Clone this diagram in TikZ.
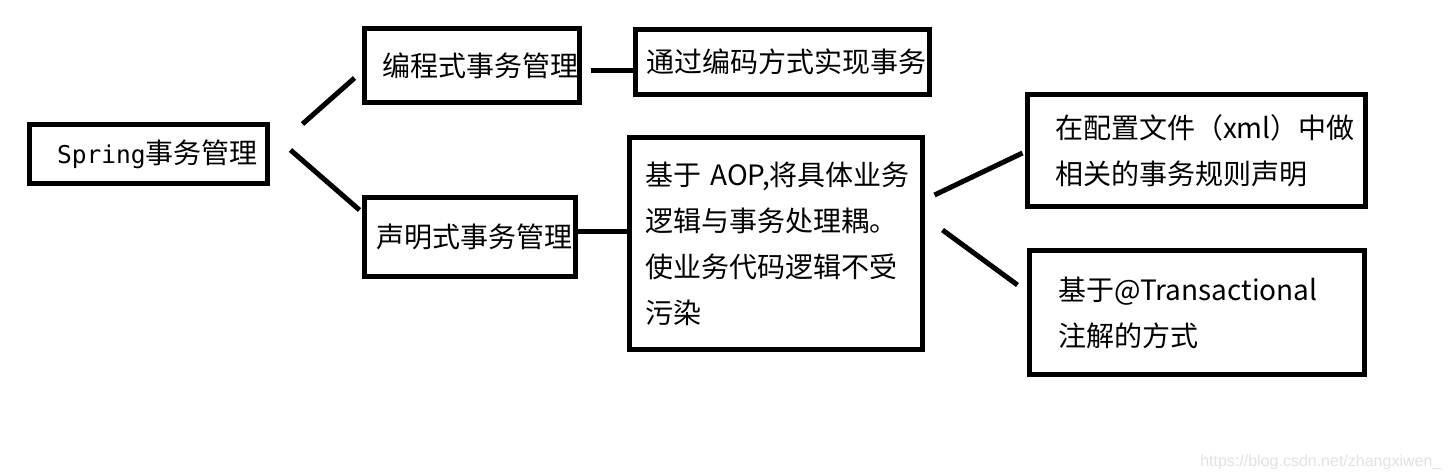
\documentclass[tikz,border=0pt]{standalone}
\usepackage{fontspec}
\usetikzlibrary{calc}
\newfontfamily\cjkFont{Noto Sans CJK SC}
\newfontfamily\codeFont{DejaVu Sans Mono}
\newfontfamily\markFont{Liberation Sans}
\definecolor{markColor}{RGB}{226,226,226}
\tikzstyle{canvas} = [x = 0.75pt, y = -0.75pt]
\tikzstyle{boxStyle} = [draw=black, line width = 3.75pt, align=left, font={\cjkFont\fontsize{21}{34.5}\selectfont}]
\tikzstyle{linkStyle} = [draw=black, line width = 3.75pt]
\tikzstyle{markStyle} = [font={\markFont\fontsize{12}{14}\selectfont}, text=markColor, anchor=west, inner sep=0pt]
\newcommand{\ruleBox}[7]{
  \pgfmathsetmacro{\boxTextWidth}{(#4 - 2 * #6) * 0.75}
  \pgfmathsetmacro{\boxHeight}{#5 * 0.75}
  \pgfmathsetmacro{\boxInset}{#6 * 0.75}
  \node [boxStyle, inner xsep = \boxInset pt, text width = \boxTextWidth pt, minimum height = \boxHeight pt] (#1) at (#2, #3) {#7};
}

\begin{document}
\begin{tikzpicture}[canvas]
        \fill [white] (0,0) rectangle (1449,472);

        % boxes: name, x, y, width, height, inset, text
        \ruleBox{spring}{148.5}{154}{238}{59}{27.5}{{\codeFont\fontsize{18.4}{21}\selectfont Spring}事务管理}
        \ruleBox{prog}{472}{65.5}{215}{74}{17.5}{编程式事务管理}
        \ruleBox{impl}{782.5}{62}{294}{65}{10.5}{通过编码方式实现事务}
        \ruleBox{decl}{470}{237}{211}{79}{11.5}{声明式事务管理}
        \ruleBox{aop}{776}{243.5}{293}{212}{15.5}{\mbox{基于 AOP,将具体业务}\\逻辑与事务处理耦。\\使业务代码逻辑不受\\污染}
        \ruleBox{xml}{1196.5}{150.5}{338}{112}{27.5}{在配置文件（xml）中做\\相关的事务规则声明}
        \ruleBox{anno}{1197}{312.5}{335}{124}{28.5}{基于@Transactional\\注解的方式}

        % links
        \draw [linkStyle] ($(spring.east) + (32.5,-30)$) -- ($(prog.west) + (-7.5,12.5)$);
        \draw [linkStyle] ($(spring.east) + (20.5,-4)$) -- ($(decl.west) + (-2.5,-27)$);
        \draw [linkStyle] ($(prog.east) + (8.5,4.5)$) -- ($(impl.west) + (0,8)$);
        \draw [linkStyle] ($(decl.east) + (0,-6)$) -- ($(aop.west) + (0,-12.5)$);
        \draw [linkStyle] ($(aop.east) + (9.5,-48.5)$) -- ($(xml.west) + (-2.5,2.5)$);
        \draw [linkStyle] ($(aop.east) + (17.5,-13.5)$) -- ($(anno.west) + (-9.5,-27.5)$);

        \node [markStyle] (mark) at (1200,462) {https://blog.csdn.net/zhangxiwen\_};
      \end{tikzpicture}
\end{document}
